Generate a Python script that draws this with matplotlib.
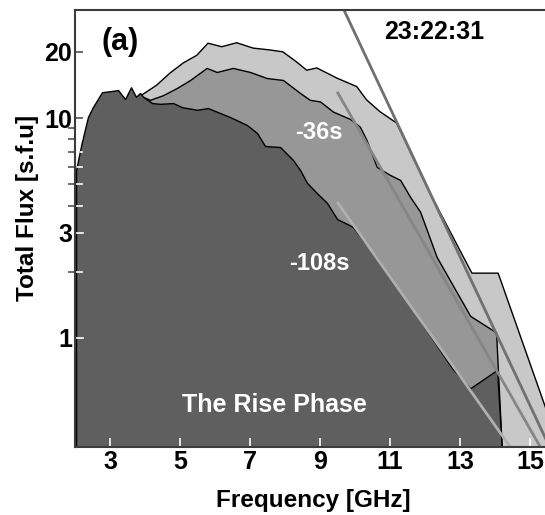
import matplotlib
matplotlib.use("Agg")
import matplotlib.pyplot as plt
from matplotlib.transforms import blended_transform_factory

plt.rcParams['font.family'] = ['Liberation Sans', 'DejaVu Sans']
plt.rcParams['font.weight'] = 'bold'

# spectrum at 23:22:31 (light)
freq_now = [3.90, 4.33, 4.71, 5.09, 5.48, 5.80, 6.19, 6.62, 7.09, 7.57, 7.94, 8.33,
            8.62, 8.91, 9.48, 10.05, 10.33, 10.71, 11.19, 12.14, 13.34, 14.09, 15.9]
flux_now = [12.7, 14.1, 16.0, 17.8, 19.3, 21.9, 21.1, 22.0, 20.8, 20.4, 20.0, 18.0,
            16.5, 16.9, 15.2, 13.9, 12.1, 10.7, 9.49, 4.56, 1.97, 1.97, 0.30]

# spectrum 36 s before (medium)
freq_36 = [3.94, 4.14, 4.51, 4.91, 5.29, 5.76, 6.05, 6.51, 7.00, 7.48, 7.94, 8.43,
           8.71, 9.00, 9.37, 9.86, 10.14, 10.33, 10.62, 10.91, 11.00, 11.29, 11.57,
           11.86, 12.05, 12.33, 13.29, 14.03, 14.20]
flux_36 = [12.5, 12.1, 12.7, 13.7, 14.9, 16.9, 16.2, 16.9, 16.2, 15.2, 14.9, 13.0,
           12.1, 11.9, 10.7, 9.9, 9.13, 7.94, 6.0, 5.62, 5.51, 5.23, 4.39,
           3.75, 3.10, 2.34, 1.26, 1.06, 0.30]

# spectrum 108 s before (dark)
freq_108 = [2.03, 2.19, 2.37, 2.51, 2.77, 3.09, 3.23, 3.43, 3.60, 3.74, 3.86, 3.94,
            4.20, 4.43, 4.80, 5.06, 5.49, 5.80, 6.43, 6.91, 7.20, 7.43, 7.86, 8.23,
            8.43, 8.63, 8.91, 9.20, 9.49, 9.94, 10.57, 11.31, 12.77, 13.29, 14.06, 14.20]
flux_108 = [5.80, 7.70, 10.1, 11.2, 13.1, 13.3, 13.4, 12.2, 13.8, 12.5, 13.0, 12.5,
            11.7, 11.6, 11.7, 11.2, 10.9, 11.1, 10.1, 9.3, 8.55, 7.46, 7.38, 6.44,
            5.80, 5.07, 4.56, 4.11, 3.47, 3.20, 2.38, 1.62, 0.73, 0.59, 0.715, 0.30]

# power-law fits of the optically thin part
fit_now_f = [9.66, 15.50]
fit_now_v = [31.6, 0.334]
fit_36_f = [9.51, 15.29]
fit_36_v = [13.0, 0.32]
fit_108_f = [9.51, 14.43]
fit_108_v = [4.11, 0.32]

yticks = [1, 3, 10, 20]
yminor = [2, 4, 5, 6, 7, 8, 9]
xticks = [3, 5, 7, 9, 11, 13, 15]

fig = plt.figure(figsize=(5.45, 5.15), dpi=100)
ax = fig.add_axes([75 / 545, 68 / 515, 490 / 545, 437 / 515])
ax.set_yscale('log')

ax.fill_between(freq_now, flux_now, 0.1, facecolor='#c8c8c8', edgecolor='black', lw=1, zorder=1)
ax.fill_between(freq_36, flux_36, 0.1, facecolor='#979797', edgecolor='black', lw=1, zorder=2)
dark = ax.fill_between(freq_108, flux_108, 0.1, facecolor='#5f5f5f', edgecolor='black', lw=1, zorder=3)

ax.plot(fit_now_f, fit_now_v, color='#707070', lw=2, zorder=4)
ax.plot(fit_36_f, fit_36_v, color='#868686', lw=2, zorder=4)
ax.plot(fit_108_f, fit_108_v, color='#b0b0b0', lw=2, zorder=4)

ax.set_xlim(2, 16)
ax.set_ylim(0.319, 31)
ax.set_xticks(xticks)
ax.set_xticklabels([str(t) for t in xticks])
ax.set_yticks(yticks)
ax.set_yticklabels([str(t) for t in yticks])
ax.set_yticks(yminor, minor=True)
ax.yaxis.set_minor_formatter(plt.NullFormatter())

ax.tick_params(axis='both', direction='in', labelsize=18, pad=2)
ax.tick_params(axis='x', which='major', length=6.5, width=1.2, colors='white', labelcolor='black')
ax.tick_params(axis='y', which='major', length=6, width=1.2, color='#505050', labelcolor='black')
ax.tick_params(axis='y', which='minor', length=5, width=1.2, color='#505050')
ax.yaxis.set_zorder(0.5)
ax.xaxis.set_zorder(5)

# y ticks turn white where they sit on the dark spectrum
trans = blended_transform_factory(ax.transAxes, ax.transData)
clip = dark.get_paths()[0]
for v in yticks + yminor:
    ln_len = 8 / 490 if v in yticks else 7 / 490
    tk, = ax.plot([0, ln_len], [v, v], transform=trans, color='white', lw=1.2, zorder=6)
    tk.set_clip_path(clip, ax.transData)

for s in ax.spines.values():
    s.set_color('#3c3c3c')
    s.set_linewidth(1.5)
    s.set_zorder(7)

ax.set_xlabel('Frequency [GHz]', fontsize=17.5, fontweight='bold')
ax.set_ylabel('Total Flux [s.f.u]', fontsize=17.5, fontweight='bold')
ax.xaxis.set_label_coords((313 - 75) / 490, (447 - 489) / 437)
ax.yaxis.set_label_coords((39 - 75) / 490, (447 - 208) / 437)

ax.text(0.092, 0.927, '(a)', transform=ax.transAxes, fontsize=22, fontweight='bold',
        ha='center', va='center', zorder=8)
ax.text(0.733, 0.95, '23:22:31', transform=ax.transAxes, fontsize=18, fontweight='bold',
        ha='center', va='center', zorder=8)
ax.text(8.97, 8.55, '-36s', color='white', fontsize=17, fontweight='bold',
        ha='center', va='center', zorder=8)
ax.text(8.97, 2.17, '-108s', color='white', fontsize=17, fontweight='bold',
        ha='center', va='center', zorder=8)
ax.text(7.71, 0.496, 'The Rise Phase', color='white', fontsize=18, fontweight='bold',
        ha='center', va='center', zorder=8)

fig.savefig('out.png', dpi=100)
